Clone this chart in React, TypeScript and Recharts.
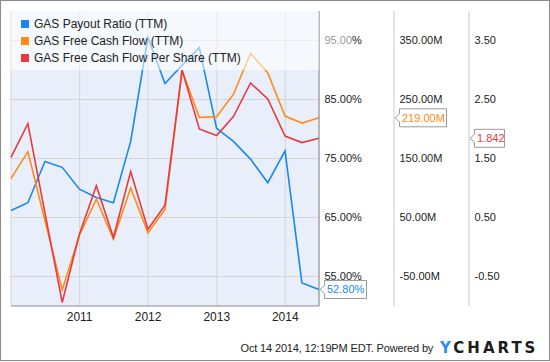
import React from 'react';
import { ComposedChart, Line, XAxis, YAxis, CartesianGrid, Legend, LabelList } from 'recharts';

const dates = [
  '2009-12-31', '2010-03-31', '2010-06-30', '2010-09-30', '2010-12-31',
  '2011-03-31', '2011-06-30', '2011-09-30', '2011-12-31', '2012-03-31',
  '2012-06-30', '2012-09-30', '2012-12-31', '2013-03-31', '2013-06-30',
  '2013-09-30', '2013-12-31', '2014-03-31', '2014-06-30',
];
const payoutRatio = [66.2, 67.5, 74.5, 73.5, 69.8, 68.4, 67.5, 77.9, 95.5, 87.7, 90.8, 93.8, 80.1, 77.9, 74.9, 70.9, 76.3, 53.9, 52.8];
const freeCashFlowM = [116, 161.6, 45, -72.7, 20, 81, 13, 100, 24, 63.5, 299.5, 219.5, 221, 259, 328, 295, 222, 210, 219];
const fcfPerShare = [1.52, 2.09, 0.58, -0.94, 0.22, 1.04, 0.16, 1.28, 0.3, 0.71, 3.0, 2.0, 1.89, 2.21, 2.78, 2.51, 1.88, 1.77, 1.842];
const yearTicks = ['2011-01-01', '2012-01-01', '2013-01-01', '2014-01-01'];
const pctTicks = [55, 65, 75, 85, 95];
const fcfTicks = [-50, 50, 150, 250, 350];
const fpsTicks = [-0.5, 0.5, 1.5, 2.5, 3.5];
const seriesNames = ['GAS Payout Ratio (TTM)', 'GAS Free Cash Flow (TTM)', 'GAS Free Cash Flow Per Share (TTM)'];
const seriesColors = ['#1a88ea', '#ff8a14', '#e83a3e'];

const toTime = (s: string) => new Date(s + 'T00:00:00Z').getTime();

const data = dates.map((d, i) => ({
  t: toTime(d),
  pct: payoutRatio[i],
  fcf: freeCashFlowM[i],
  fps: fcfPerShare[i],
}));

const FONT = '"Liberation Sans", Arial, sans-serif';
const LAST = data.length - 1;

const makeRightTick = (fmt: (v: number) => string, grayTop?: number) => (props: any) => {
  const { x, y, payload } = props;
  const v = payload.value;
  if (grayTop !== undefined && v === grayTop) {
    const s = fmt(v);
    return (
      <text x={x + 5.5} y={y} dy="0.36em" textAnchor="start" fontSize={11} fontFamily={FONT} fill="#222">
        <tspan fill="#9a9a9a">{s.slice(0, -1)}</tspan>
        <tspan>{s.slice(-1)}</tspan>
      </text>
    );
  }
  return (
    <text x={x + 5.5} y={y} dy="0.36em" textAnchor="start" fontSize={11} fontFamily={FONT} fill="#222">
      {fmt(v)}
    </text>
  );
};

const XTick = (props: any) => {
  const { x, y, payload } = props;
  return (
    <text x={x} y={y + 10.5} dy="0.36em" textAnchor="middle" fontSize={12} fontFamily={FONT} fill="#222">
      {new Date(payload.value).getUTCFullYear()}
    </text>
  );
};

const EndBox = ({ tipX, y, text, color, width }: any) => {
  const h = 18;
  const l = tipX + 4.5;
  const t = y - h / 2;
  const d = `M${tipX},${y} L${l},${y - 4} L${l},${t} L${l + width},${t} L${l + width},${t + h} L${l},${t + h} L${l},${y + 4} Z`;
  return (
    <g>
      <path d={d} fill="#fff" stroke="#9a9a9a" strokeWidth={1} />
      <text x={l + 2.5} y={y} dy="0.36em" fontSize={11} fontFamily={FONT} fill={color}>{text}</text>
    </g>
  );
};

const endLabel = (axisShift: number, fmt: (v: number) => string, color: string, width: number) => (p: any) => {
  if (p.index !== LAST) return null;
  return <EndBox tipX={p.x + axisShift + 1} y={p.y} text={fmt(Number(p.value))} color={color} width={width} />;
};

const LegendContent = () => (
  <div style={{ position: 'relative', width: '100%', height: '100%', fontFamily: FONT }}>
    {seriesNames.map((n, i) => (
      <div key={n} style={{ position: 'absolute', left: 10, top: 13 + i * 17 - 8, height: 16, display: 'flex', alignItems: 'center', whiteSpace: 'nowrap' }}>
        <span style={{ display: 'inline-block', width: 8, height: 8, background: seriesColors[i], marginRight: 5 }} />
        <span style={{ fontSize: 12, color: '#222' }}>{n}</span>
      </div>
    ))}
  </div>
);

const pctFmt = (v: number) => v.toFixed(2) + '%';
const fcfFmt = (v: number) => v.toFixed(2) + 'M';
const fpsFmt = (v: number) => v.toFixed(2);

export default function App() {
  return (
    <div style={{ position: 'absolute', left: 0, top: 0, width: 550, height: 362, background: '#fff', fontFamily: FONT }}>
      <div style={{ position: 'absolute', left: 0, top: 0, width: 550, height: 361, border: '1px solid #8a8a8a', boxSizing: 'border-box' }} />
      <ComposedChart width={550} height={362} data={data} margin={{ top: 11, left: 11, right: 0, bottom: 26 }}>
        <CartesianGrid yAxisId="a_pct" xAxisId="x" stroke="#d4d4d4" fill="#e9effa" horizontalValues={pctTicks} />
        <XAxis
          xAxisId="x"
          dataKey="t"
          type="number"
          domain={['dataMin', 'dataMax']}
          ticks={yearTicks.map(toTime)}
          interval={0}
          tick={<XTick />}
          tickLine={false}
          tickSize={0}
          tickMargin={0}
          height={30}
          axisLine={{ stroke: '#8a8a8a' }}
        />
        <XAxis xAxisId="top" orientation="top" type="number" domain={[0, 1]} height={0} tick={false} tickLine={false} axisLine={{ stroke: '#bdbdbd' }} />
        <YAxis yAxisId="left" orientation="left" type="number" domain={[0, 1]} width={0} tick={false} tickLine={false} axisLine={{ stroke: '#8a8a8a' }} />
        <YAxis
          yAxisId="a_pct"
          orientation="right"
          type="number"
          domain={[50, 100]}
          ticks={pctTicks}
          interval={0}
          width={75}
          tickLine={false}
          tickSize={0}
          tickMargin={0}
          tick={makeRightTick(pctFmt, 95)}
          axisLine={{ stroke: '#8a8a8a' }}
          allowDataOverflow
        />
        <YAxis
          yAxisId="b_fcf"
          orientation="right"
          type="number"
          domain={[-100, 400]}
          ticks={fcfTicks}
          interval={0}
          width={75}
          tickLine={false}
          tickSize={0}
          tickMargin={0}
          tick={makeRightTick(fcfFmt)}
          axisLine={{ stroke: '#c8c8c8' }}
          allowDataOverflow
        />
        <YAxis
          yAxisId="c_fps"
          orientation="right"
          type="number"
          domain={[-1, 4]}
          ticks={fpsTicks}
          interval={0}
          width={81}
          tickLine={false}
          tickSize={0}
          tickMargin={0}
          tick={makeRightTick(fpsFmt)}
          axisLine={{ stroke: '#c8c8c8' }}
          allowDataOverflow
        />
        <Line xAxisId="x" yAxisId="a_pct" dataKey="pct" name={seriesNames[0]} stroke={seriesColors[0]} strokeWidth={1.6} dot={false} isAnimationActive={false}>
          <LabelList dataKey="pct" content={endLabel(0, pctFmt, seriesColors[0], 42)} />
        </Line>
        <Line xAxisId="x" yAxisId="b_fcf" dataKey="fcf" name={seriesNames[1]} stroke={seriesColors[1]} strokeWidth={1.6} dot={false} isAnimationActive={false}>
          <LabelList dataKey="fcf" content={endLabel(75, fcfFmt, seriesColors[1], 47)} />
        </Line>
        <Line xAxisId="x" yAxisId="c_fps" dataKey="fps" name={seriesNames[2]} stroke={seriesColors[2]} strokeWidth={1.6} dot={false} isAnimationActive={false}>
          <LabelList dataKey="fps" content={endLabel(150, (v) => v.toFixed(3), seriesColors[2], 30)} />
        </Line>
        <Legend
          layout="horizontal"
          verticalAlign="middle"
          align="center"
          content={<LegendContent />}
          wrapperStyle={{ left: 11, top: 11, width: 308, height: 59, background: 'rgba(255,255,255,0.55)', margin: 0, padding: 0 }}
        />
      </ComposedChart>
      <div style={{ position: 'absolute', left: 240.5, top: 341, fontSize: 11, color: '#222', whiteSpace: 'pre', lineHeight: '14px', letterSpacing: -0.15 }}>
        {'Oct 14 2014, 12:19PM EDT. Powered by'}
      </div>
      <div style={{ position: 'absolute', left: 440, top: 339, fontSize: 15, fontWeight: 900, letterSpacing: 3, lineHeight: '18px', whiteSpace: 'nowrap', fontFamily: '"DejaVu Sans", sans-serif' }}>
        <span style={{ color: '#2a8ff0' }}>Y</span>
        <span style={{ color: '#1c1c1c' }}>CHARTS</span>
      </div>
    </div>
  );
}
